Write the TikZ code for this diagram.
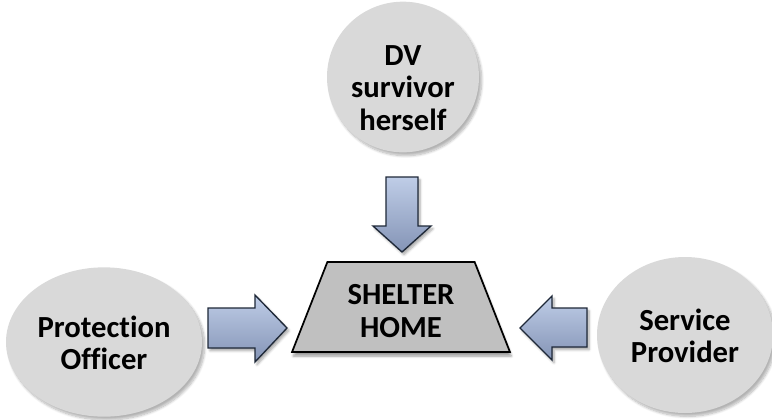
\documentclass[tikz,border=0pt]{standalone}
\usepackage{fontspec}
\setmainfont{Carlito}[Ligatures=CommonOff]
\usetikzlibrary{shapes.geometric,shadows.blur}

\definecolor{bubble}{HTML}{D9D9D9}
\definecolor{hub}{HTML}{C0C0C0}
\definecolor{arrowtop}{HTML}{BFCDE7}
\definecolor{arrowbot}{HTML}{8494B6}
\definecolor{arrowline}{HTML}{1E2838}

\tikzset{
  label font/.style={font=\fontsize{23}{24.5}\selectfont\bfseries, align=center, text=black, inner sep=0pt},
  bubblenode/.style={ellipse, fill=bubble, draw=none,
    blur shadow={shadow xshift=2pt, shadow yshift=-2.5pt, shadow blur steps=8, shadow opacity=30}},
  hubnode/.style={trapezium, trapezium stretches=true, trapezium angle=76.5,
    fill=hub, draw=black, line width=1.3pt,
    blur shadow={shadow xshift=1pt, shadow yshift=-3pt, shadow blur steps=6, shadow opacity=40}},
  blockarrow/.style={top color=arrowtop, bottom color=arrowbot, draw=arrowline,
    line width=1pt, line join=miter,
    blur shadow={shadow xshift=1.5pt, shadow yshift=-2pt, shadow blur steps=5, shadow opacity=35}}
}

\begin{document}
\begin{tikzpicture}[x=0.75pt, y=-0.75pt]
\useasboundingbox (0,0) rectangle (772,419);

% three parties around the shelter
\node[bubblenode, minimum width=114pt, minimum height=113pt] (dv) at (403,77) {};
\node[bubblenode, minimum width=147pt, minimum height=112pt] (po) at (104,342) {};
\node[bubblenode, minimum width=132pt, minimum height=117pt] (sp) at (685,335) {};

\node[label font] (dvtext) at (403,88) {DV\\survivor\\herself};
\node[label font] (potext) at (104,343) {Protection\\Officer};
\node[label font] (sptext) at (685,336) {Service\\Provider};

% the shelter itself
\node[hubnode, minimum width=163.5pt, minimum height=67.5pt] (home) at (401,307) {};
\node[label font] (hometext) at (401,311) {SHELTER\\HOME};

% block arrows pointing into the shelter
\path[blockarrow] (386,177) -- (418,177) -- (418,226) -- (431,226) -- (402,252)
  -- (373,226) -- (386,226) -- cycle;
\path[blockarrow] (208,308) -- (255,308) -- (255,295) -- (287,328) -- (255,362)
  -- (255,348) -- (208,348) -- cycle;
\path[blockarrow] (587,308) -- (552,308) -- (552,296) -- (520,328) -- (552,360)
  -- (552,347) -- (587,347) -- cycle;
\end{tikzpicture}
\end{document}
